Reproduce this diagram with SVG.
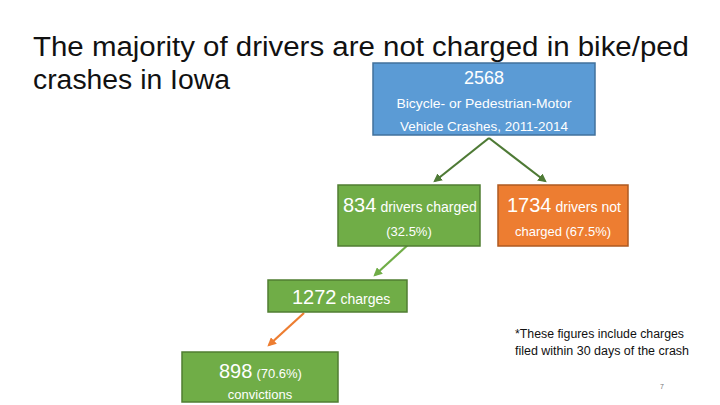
<svg xmlns="http://www.w3.org/2000/svg" width="720" height="405" viewBox="0 0 720 405">
<style>
.t{font-family:"Liberation Sans","DejaVu Sans",sans-serif;}
.title{font-size:27px;fill:#111;}
.w{fill:#fff;}
.big{font-size:20px;}
.sm{font-size:13px;}
.blue{fill:#5B9BD5;stroke:#41719C;stroke-width:1.5;}
.green{fill:#70AD47;stroke:#507E32;stroke-width:1.5;}
.orange{fill:#ED7D31;stroke:#AE5A21;stroke-width:1.5;}
.note{font-size:12.5px;fill:#111;}
</style>
<defs>
<marker id="ag" markerWidth="4" markerHeight="4" refX="3" refY="2" orient="auto" markerUnits="strokeWidth"><path d="M0,0 L4,2 L0,4 Z" fill="#4E7A35"/></marker>
<marker id="al" markerWidth="4" markerHeight="4" refX="3" refY="2" orient="auto" markerUnits="strokeWidth"><path d="M0,0 L4,2 L0,4 Z" fill="#70AD47"/></marker>
<marker id="ao" markerWidth="4" markerHeight="4" refX="3" refY="2" orient="auto" markerUnits="strokeWidth"><path d="M0,0 L4,2 L0,4 Z" fill="#ED7D31"/></marker>
</defs>
<rect width="720" height="405" fill="#fff"/>
<g id="title" class="t title">
<text x="33" y="56" textLength="656" lengthAdjust="spacingAndGlyphs">The majority of drivers are not charged in bike/ped</text>
<text x="33" y="89" textLength="197" lengthAdjust="spacingAndGlyphs">crashes in Iowa</text>
</g>
<g id="connectors" fill="none">
<line x1="489" y1="138" x2="435" y2="181" stroke="#4E7A35" stroke-width="2.2" marker-end="url(#ag)"/>
<line x1="489" y1="138" x2="545" y2="181" stroke="#4E7A35" stroke-width="2.2" marker-end="url(#ag)"/>
<line x1="410" y1="243" x2="375" y2="275" stroke="#70AD47" stroke-width="2.2" marker-end="url(#al)"/>
<line x1="304" y1="313" x2="269" y2="345" stroke="#ED7D31" stroke-width="2.2" marker-end="url(#ao)"/>
</g>
<g id="n2568" class="t">
<rect class="blue" x="373" y="63" width="222" height="72"/>
<text class="w" x="484" y="84" font-size="18" text-anchor="middle">2568</text>
<text class="w sm" x="484" y="108" text-anchor="middle" textLength="175" lengthAdjust="spacingAndGlyphs">Bicycle- or Pedestrian-Motor</text>
<text class="w sm" x="484" y="131" text-anchor="middle" textLength="168" lengthAdjust="spacingAndGlyphs">Vehicle Crashes, 2011-2014</text>
</g>
<g id="n834" class="t">
<rect class="green" x="338" y="185" width="142" height="61"/>
<text class="w" x="343" y="212"><tspan class="big">834</tspan><tspan font-size="14" dx="4">drivers charged</tspan></text>
<text class="w sm" x="409" y="236" text-anchor="middle">(32.5%)</text>
</g>
<g id="n1734" class="t">
<rect class="orange" x="498" y="185" width="130" height="61"/>
<text class="w" x="507" y="212"><tspan class="big">1734</tspan><tspan font-size="14" dx="4">drivers not</tspan></text>
<text class="w sm" x="563" y="236" text-anchor="middle">charged (67.5%)</text>
</g>
<g id="n1272" class="t">
<rect class="green" x="268" y="280" width="139" height="32"/>
<text class="w" x="292" y="304"><tspan class="big">1272</tspan><tspan font-size="14" dx="4">charges</tspan></text>
</g>
<g id="n898" class="t">
<rect class="green" x="182" y="352" width="156" height="50"/>
<text class="w" x="219" y="378"><tspan class="big">898</tspan><tspan font-size="13" dx="4">(70.6%)</tspan></text>
<text class="w sm" x="260" y="399" text-anchor="middle">convictions</text>
</g>
<g id="footnote" class="t note">
<text x="515" y="338" textLength="169" lengthAdjust="spacingAndGlyphs">*These figures include charges</text>
<text x="515" y="355" textLength="174" lengthAdjust="spacingAndGlyphs">filed within 30 days of the crash</text>
</g>
<text class="t" x="660" y="389" font-size="7" fill="#777">7</text>
</svg>
